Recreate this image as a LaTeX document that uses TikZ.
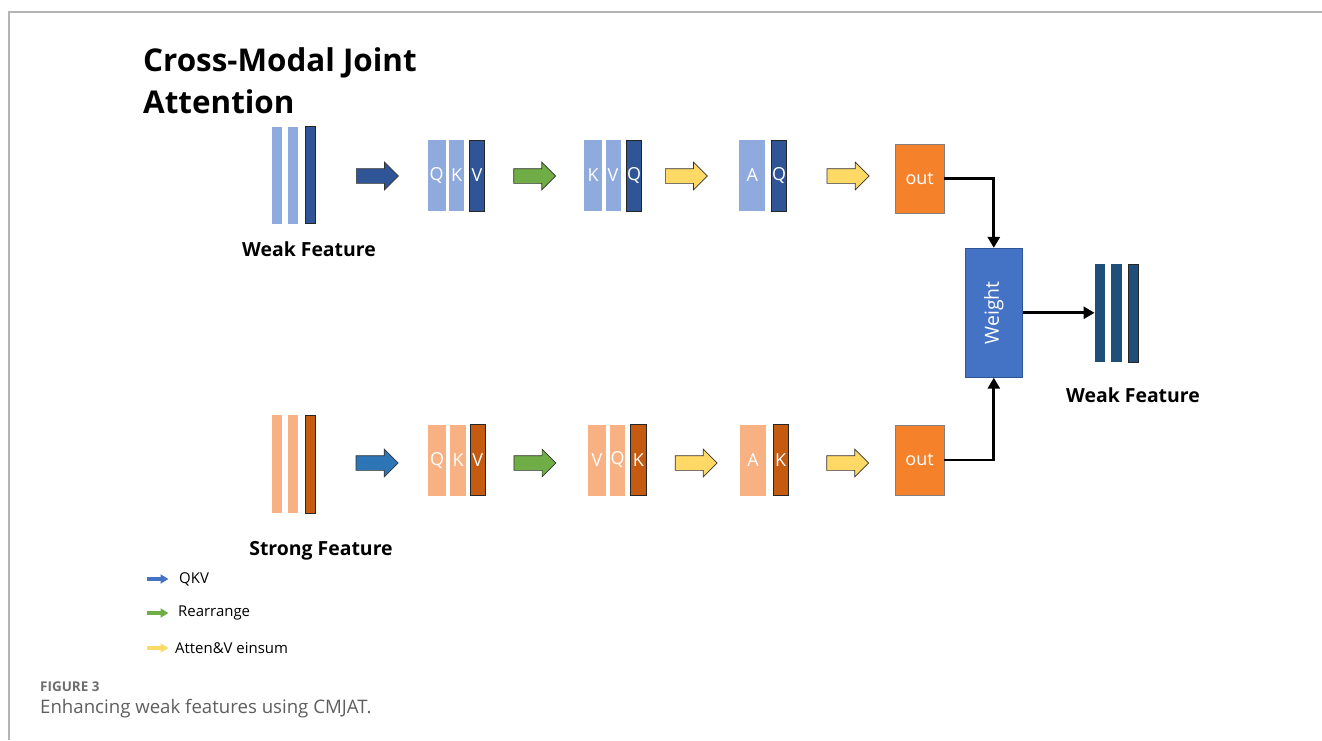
\documentclass[tikz,border=0pt]{standalone}
\usepackage{fontspec}
\setmainfont{Open Sans}
\usetikzlibrary{arrows.meta,shapes.arrows}
\definecolor{lblue}{HTML}{8FAADC}
\definecolor{dblue}{HTML}{2F5597}
\definecolor{lpeach}{HTML}{F8B183}
\definecolor{dorange}{HTML}{C55A11}
\definecolor{outorange}{HTML}{F5822A}
\definecolor{wblue}{HTML}{4472C4}
\definecolor{navy}{HTML}{1F4E79}
\definecolor{mblue}{HTML}{2E75B6}
\definecolor{agreen}{HTML}{70AD47}
\definecolor{ayellow}{HTML}{FFD966}
\definecolor{framegray}{HTML}{B4B4B4}
\definecolor{capgray}{HTML}{5E5E5E}

\tikzset{
  bar/.style={rectangle, inner sep=0pt, minimum height=71bp, text=white,
    font=\fontsize{18}{20}\selectfont},
  lbarT/.style={bar, fill=lblue},
  dbarT/.style={bar, fill=dblue, draw=black!85, line width=0.8bp},
  lbarB/.style={bar, fill=lpeach},
  dbarB/.style={bar, fill=dorange, draw=black!85, line width=0.8bp},
  inbar/.style={rectangle, inner sep=0pt, minimum width=10bp, minimum height=97bp},
  blockarr/.style={single arrow, draw=black!80, line width=0.7bp, fill=#1,
    inner xsep=0pt, inner ysep=7bp, minimum height=42bp,
    single arrow head extend=6.5bp, anchor=tail},
  outbox/.style={rectangle, fill=outorange, draw=gray, line width=0.6bp,
    minimum width=49bp, minimum height=69bp, text=white,
    font=\fontsize{18}{20}\selectfont},
  featlabel/.style={font=\fontsize{19.5}{22}\selectfont\bfseries},
  link/.style={line width=2.8bp, -{Triangle[length=11bp,width=12bp]}},
  legarr/.style={line width=3.5bp, -{Triangle[length=8bp,width=9bp]}},
  legtext/.style={anchor=west, inner sep=0pt, font=\fontsize{15}{18}\selectfont}
}

\begin{document}
\begin{tikzpicture}[x=1bp, y=-1bp]
\useasboundingbox (0,0) rectangle (1322,740);

% Frame
\draw[framegray, line width=1.4bp] (9,740) -- (9,12) -- (1322,12);

% Title
\node[anchor=base west, inner sep=0pt, font=\fontsize{31.5}{36}\selectfont\bfseries]
  (title) at (143,71.7) {Cross-Modal Joint};
\node[anchor=base west, inner sep=0pt, font=\fontsize{31.5}{36}\selectfont\bfseries]
  (title2) at (143,113) {Attention};

% Weak feature input
\node[inbar, fill=lblue] (win1) at (276.7,175.3) {};
\node[inbar, fill=lblue] (win2) at (293.3,175.3) {};
\node[inbar, fill=dblue, draw=black!85, line width=0.8bp] (win3) at (310.3,175.3) {};
\node[featlabel] (wlabel) at (309,249) {Weak Feature};

% Weak feature stages
\node[blockarr=dblue] (wa1) at (356,176) {};
\node[lbarT, minimum width=18bp] (wq) at (436.5,175.5) {Q};
\node[lbarT, minimum width=15bp] (wk) at (456.5,175.5) {K};
\node[dbarT, minimum width=15bp] (wv) at (477,175.5) {V};

\node[blockarr=agreen] (wa2) at (513.3,176) {};
\node[lbarT, minimum width=18bp] (wk2) at (593,175.5) {K};
\node[lbarT, minimum width=15bp] (wv2) at (613,175.5) {V};
\node[dbarT, minimum width=15bp] (wq2) at (634,175.5) {Q};

\node[blockarr=ayellow] (wa3) at (665,176) {};
\node[lbarT, minimum width=25.5bp] (wa) at (752.2,175.5) {A};
\node[dbarT, minimum width=15bp] (wq3) at (779,175.5) {Q};

\node[blockarr=ayellow] (wa4) at (826.7,176) {};
\node[outbox] (wout) at (919.6,178.7) {out};

% Strong feature input
\node[inbar, fill=lpeach, minimum height=98bp] (sin1) at (276.7,464) {};
\node[inbar, fill=lpeach, minimum height=98bp] (sin2) at (293.3,464) {};
\node[inbar, fill=dorange, draw=black!85, line width=0.8bp, minimum height=98bp]
  (sin3) at (310.3,464) {};
\node[featlabel] (slabel) at (321,551) {Strong Feature};

% Strong feature stages
\node[blockarr=mblue] (sa1) at (355.7,463) {};
\node[lbarB, minimum width=18bp] (sq) at (437,460.3) {Q};
\node[lbarB, minimum width=16bp] (sk) at (458,460.3) {K};
\node[dbarB, minimum width=15bp] (sv) at (477.7,460.3) {V};

\node[blockarr=agreen] (sa2) at (513.6,463) {};
\node[lbarB, minimum width=18bp] (sv2) at (597,460) {V};
\node[lbarB, minimum width=15bp] (sq2) at (617.5,460) {Q};
\node[dbarB, minimum width=15.5bp] (sk2) at (638.3,460) {K};

\node[blockarr=ayellow] (sa3) at (674.8,463) {};
\node[lbarB, minimum width=26bp] (sa) at (753,460) {A};
\node[dbarB, minimum width=15bp] (sk3) at (780.5,460) {K};

\node[blockarr=ayellow] (sa4) at (826.3,463) {};
\node[outbox, minimum height=70bp] (sout) at (919.5,460) {out};

% Weight and output
\node[rectangle, fill=wblue, draw=dblue, line width=0.8bp,
  minimum width=57bp, minimum height=129bp] (weight) at (993.8,312.8) {};
\node[rotate=90, text=white, font=\fontsize{19.5}{22}\selectfont] (wtext)
  at (weight.center) {Weight};

\node[inbar, fill=navy, minimum width=10.5bp, minimum height=98bp] (res1) at (1100,313.3) {};
\node[inbar, fill=navy, minimum width=10.5bp, minimum height=98bp] (res2) at (1116.5,313.3) {};
\node[inbar, fill=navy, draw=black!85, line width=0.8bp, minimum width=10.5bp,
  minimum height=98bp] (res3) at (1133.3,313.3) {};
\node[featlabel] (rlabel) at (1133,395) {Weak Feature};

% Connectors
\draw[link] (wout.east) -| (weight.north);
\draw[link] (sout.east) -| (weight.south);
\draw[link] (weight.east) -- (res1.west |- weight.east);

% Legend
\coordinate (lg1a) at (147,579);  \coordinate (lg1b) at (168.5,579);
\coordinate (lg2a) at (147,613);  \coordinate (lg2b) at (168.5,613);
\coordinate (lg3a) at (147,648);  \coordinate (lg3b) at (168.5,648);
\draw[legarr, wblue] (lg1a) -- (lg1b);
\draw[legarr, agreen] (lg2a) -- (lg2b);
\draw[legarr, ayellow] (lg3a) -- (lg3b);
\node[legtext] (lqkv) at (179,579) {QKV};
\node[legtext] (lrearr) at (178,613) {Rearrange};
\node[legtext] (lein) at (175,648) {Atten\&V einsum};

% Caption
\node[anchor=west, inner sep=0pt, text=capgray!90,
  font=\fontsize{13.5}{15}\selectfont\bfseries] (fig) at (40,687) {FIGURE 3};
\node[anchor=west, inner sep=0pt, text=capgray,
  font=\fontsize{18.7}{22}\selectfont] (cap) at (40,708.5) {Enhancing weak features using CMJAT.};

\end{tikzpicture}
\end{document}
